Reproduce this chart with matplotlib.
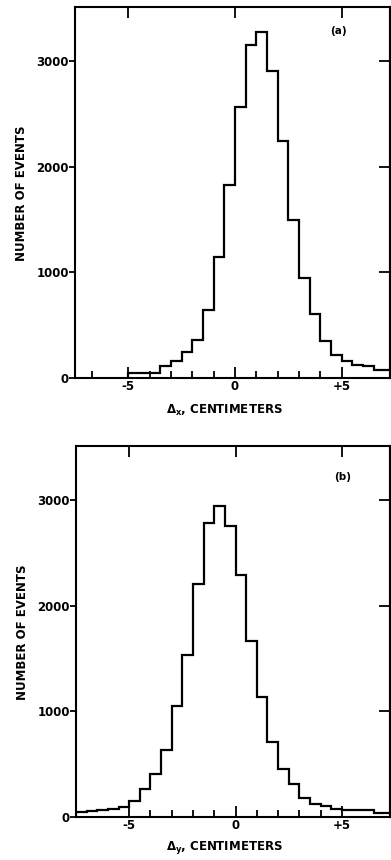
import matplotlib
matplotlib.use("Agg")
import matplotlib.pyplot as plt
import numpy as np

# ---- data (bin width 0.5 cm) ----
edges_a = np.arange(-5.0, 7.5001, 0.5)
counts_a = [45, 45, 50, 117, 158, 243, 357, 642, 1149, 1826, 2564, 3149, 3270,
            2902, 2241, 1494, 943, 601, 348, 221, 158, 120, 117, 76, 76]
edges_b = np.arange(-7.5, 7.5001, 0.5)
counts_b = [50, 55, 63, 75, 95, 156, 265, 405, 630, 1047, 1536, 2208, 2779, 2940,
            2757, 2290, 1662, 1136, 707, 450, 310, 180, 126, 100, 80, 65, 63, 63,
            38, 38]

xticks = [-5, 0, 5]
xticklabels = ["-5", "0", "+5"]
yticks = [0, 1000, 2000, 3000]
yticklabels = ["0", "1000", "2000", "3000"]
minor_a = [-6.7, -4, -3, -2, -1, 1, 2, 3, 4]
minor_b = [-4, -3, -2, -1, 1, 2, 3, 4]
panel_labels = ["(a)", "(b)"]
xlabels = [r"Δ$_{\mathbf{x}}$, CENTIMETERS", r"Δ$_{\mathbf{y}}$, CENTIMETERS"]
ylabel = "NUMBER OF EVENTS"

plt.rcParams['font.family'] = ['DejaVu Sans']
plt.rcParams['mathtext.fontset'] = 'dejavusans'

W, H = 391, 860
fig = plt.figure(figsize=(W / 100, H / 100), dpi=100)

def px_axes(left, right, top, bottom):
    return [left / W, 1 - bottom / H, (right - left) / W, (bottom - top) / H]

ax_a = fig.add_axes(px_axes(75, 390, 7, 378))
ax_b = fig.add_axes(px_axes(76, 390, 446, 817))

lw = 1.6
for ax, edges, counts, minor, plab, xlab, lab_xy, xl_y in [
        (ax_a, edges_a, counts_a, minor_a, panel_labels[0], xlabels[0], (0.835, 0.935), -0.068),
        (ax_b, edges_b, counts_b, minor_b, panel_labels[1], xlabels[1], (0.85, 0.917), -0.058)]:
    ax.stairs(counts, edges, baseline=0, color='black', linewidth=lw, fill=False)
    ax.set_xlim(-7.5, 7.26)
    ax.set_ylim(0, 3510)
    for s in ax.spines.values():
        s.set_linewidth(1.5)
    ax.set_xticks(xticks)
    ax.set_xticklabels(xticklabels, fontsize=8.5, fontweight='bold')
    ax.set_xticks(minor, minor=True)
    ax.set_yticks(yticks)
    ax.set_yticklabels(yticklabels, fontsize=8.5, fontweight='bold')
    ax.tick_params(axis='x', which='major', direction='in', length=8, width=1.3,
                   top=True, bottom=True, pad=1.5)
    ax.tick_params(axis='x', which='minor', direction='in', length=5, width=1.3,
                   top=False, bottom=True)
    ax.tick_params(axis='y', which='major', direction='out', length=4, width=1.3,
                   left=True, right=False, pad=0.5)
    # right-side inward ticks
    sec = ax.secondary_yaxis('right')
    sec.set_yticks([1000, 2000, 3000])
    sec.set_yticklabels([])
    sec.tick_params(direction='in', length=8, width=1.3)
    sec.spines['right'].set_linewidth(1.5)
    ax.set_ylabel(ylabel, fontsize=8.5, fontweight='bold')
    ax.yaxis.set_label_coords(-0.15, 0.497)
    ax.set_xlabel(xlab, fontsize=8.5, fontweight='bold')
    ax.xaxis.set_label_coords(0.473, xl_y)
    ax.text(lab_xy[0], lab_xy[1], plab, transform=ax.transAxes, fontsize=7.5,
            fontweight='bold', ha='center', va='center')

fig.savefig("out.png", dpi=100)
